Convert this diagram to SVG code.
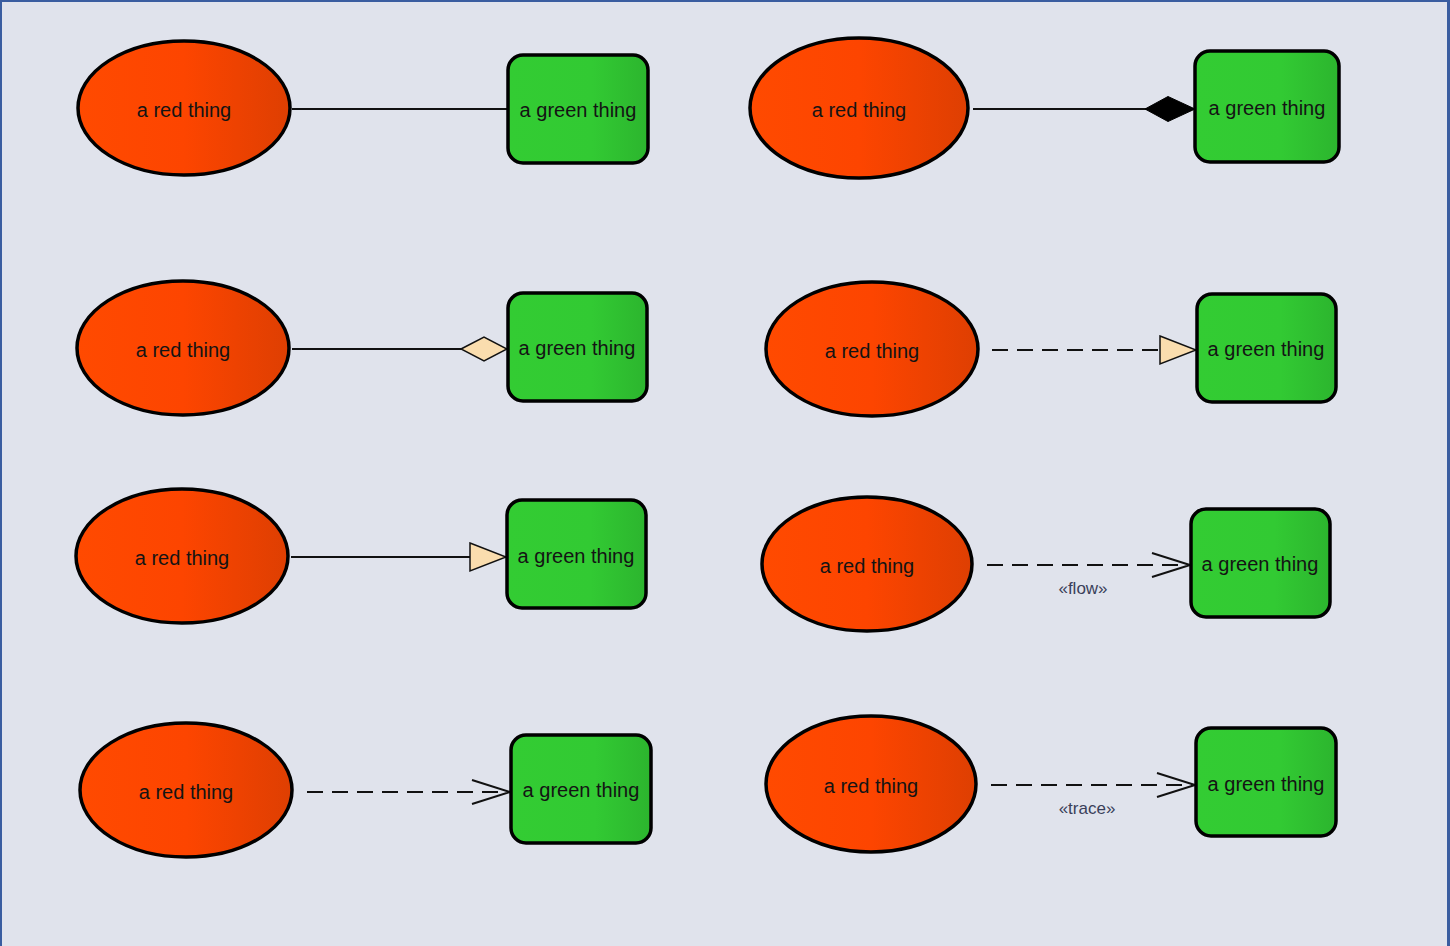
<svg xmlns="http://www.w3.org/2000/svg" width="1450" height="946" viewBox="0 0 1450 946">
<defs>
<linearGradient id="red" x1="0" y1="0" x2="1" y2="0">
<stop offset="0" stop-color="#FF4A00"/><stop offset="0.5" stop-color="#FD4500"/><stop offset="1" stop-color="#DE3F02"/>
</linearGradient>
<linearGradient id="green" x1="0" y1="0" x2="1" y2="0">
<stop offset="0" stop-color="#33CC33"/><stop offset="0.6" stop-color="#32CA33"/><stop offset="1" stop-color="#2CB52E"/>
</linearGradient>
<marker id="openArrow" markerUnits="userSpaceOnUse" viewBox="0 0 40 26" refX="39" refY="13" markerWidth="40" markerHeight="26" orient="auto">
<path d="M1,1 L39,13 L1,25" fill="none" stroke="#111" stroke-width="2"/>
</marker>
<marker id="triangle" markerUnits="userSpaceOnUse" viewBox="0 0 40 32" refX="38" refY="16" markerWidth="40" markerHeight="32" orient="auto">
<path d="M2,2 L38,16 L2,30 Z" fill="#FADDAE" stroke="#111" stroke-width="1.5"/>
</marker>
<marker id="hollowDiamond" markerUnits="userSpaceOnUse" viewBox="0 0 48 28" refX="47" refY="14" markerWidth="48" markerHeight="28" orient="auto">
<path d="M1,14 L24,2 L47,14 L24,26 Z" fill="#FADDAE" stroke="#111" stroke-width="1.5"/>
</marker>
<marker id="filledDiamond" markerUnits="userSpaceOnUse" viewBox="0 0 52 28" refX="51" refY="14" markerWidth="52" markerHeight="28" orient="auto">
<path d="M1,14 L24,1.5 L51,14 L24,26.5 Z" fill="#000" stroke="#000" stroke-width="1"/>
</marker>
</defs>
<style>
.bg{fill:#E0E3EC;}
.red{fill:url(#red);stroke:#000;stroke-width:3.5;}
.green{fill:url(#green);stroke:#000;stroke-width:3.5;}
.lbl{font-family:"Liberation Sans",Arial,sans-serif;font-size:20px;fill:#141414;text-anchor:middle;dominant-baseline:central;}
.st{font-family:"Liberation Sans",Arial,sans-serif;font-size:17px;fill:#3A3F5A;text-anchor:middle;dominant-baseline:central;}
.solid{fill:none;stroke:#111;stroke-width:2;}
.dash{fill:none;stroke:#111;stroke-width:2;stroke-dasharray:16 9;}
</style>
<rect class="bg" x="0" y="0" width="1450" height="946"/>
<path d="M1,946 V1 H1448.5 V946" fill="none" stroke="#3A5DA0" stroke-width="2"/>
<line x1="1448.5" y1="0" x2="1448.5" y2="946" stroke="#3A5DA0" stroke-width="3"/>

<g id="connectors">
<path class="solid" d="M292,109 H508"/>
<path class="solid" d="M973,109 H1195" marker-end="url(#filledDiamond)"/>
<path class="solid" d="M292,349 H507" marker-end="url(#hollowDiamond)"/>
<path class="dash" d="M992,350 H1196" marker-end="url(#triangle)"/>
<path class="solid" d="M291,557 H506" marker-end="url(#triangle)"/>
<path class="dash" d="M987,565 H1190" marker-end="url(#openArrow)"/>
<text class="st" x="1083" y="588">«flow»</text>
<path class="dash" d="M307,792 H510" marker-end="url(#openArrow)"/>
<path class="dash" d="M991,785 H1195" marker-end="url(#openArrow)"/>
<text class="st" x="1087" y="808">«trace»</text>
</g>

<g id="red1"><ellipse class="red" cx="184" cy="108" rx="106" ry="67"/><text class="lbl" x="184" y="110">a red thing</text></g>
<g id="green1"><rect class="green" x="508" y="55" width="140" height="108" rx="15"/><text class="lbl" x="578" y="110">a green thing</text></g>
<g id="red2"><ellipse class="red" cx="859" cy="108" rx="109" ry="70"/><text class="lbl" x="859" y="110">a red thing</text></g>
<g id="green2"><rect class="green" x="1195" y="51" width="144" height="111" rx="15"/><text class="lbl" x="1267" y="108">a green thing</text></g>

<g id="red3"><ellipse class="red" cx="183" cy="348" rx="106" ry="67"/><text class="lbl" x="183" y="350">a red thing</text></g>
<g id="green3"><rect class="green" x="508" y="293" width="139" height="108" rx="15"/><text class="lbl" x="577" y="348">a green thing</text></g>
<g id="red4"><ellipse class="red" cx="872" cy="349" rx="106" ry="67"/><text class="lbl" x="872" y="351">a red thing</text></g>
<g id="green4"><rect class="green" x="1197" y="294" width="139" height="108" rx="15"/><text class="lbl" x="1266" y="349">a green thing</text></g>

<g id="red5"><ellipse class="red" cx="182" cy="556" rx="106" ry="67"/><text class="lbl" x="182" y="558">a red thing</text></g>
<g id="green5"><rect class="green" x="507" y="500" width="139" height="108" rx="15"/><text class="lbl" x="576" y="556">a green thing</text></g>
<g id="red6"><ellipse class="red" cx="867" cy="564" rx="105" ry="67"/><text class="lbl" x="867" y="566">a red thing</text></g>
<g id="green6"><rect class="green" x="1191" y="509" width="139" height="108" rx="15"/><text class="lbl" x="1260" y="564">a green thing</text></g>

<g id="red7"><ellipse class="red" cx="186" cy="790" rx="106" ry="67"/><text class="lbl" x="186" y="792">a red thing</text></g>
<g id="green7"><rect class="green" x="511" y="735" width="140" height="108" rx="15"/><text class="lbl" x="581" y="790">a green thing</text></g>
<g id="red8"><ellipse class="red" cx="871" cy="784" rx="105" ry="68"/><text class="lbl" x="871" y="786">a red thing</text></g>
<g id="green8"><rect class="green" x="1196" y="728" width="140" height="108" rx="15"/><text class="lbl" x="1266" y="784">a green thing</text></g>
</svg>
